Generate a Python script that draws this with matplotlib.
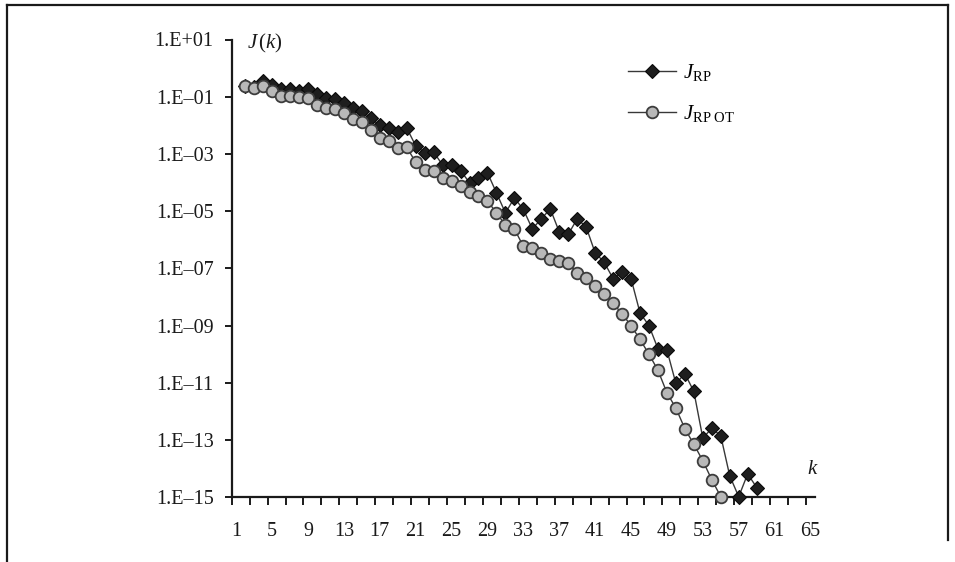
import matplotlib
matplotlib.use("Agg")
import matplotlib.pyplot as plt
from matplotlib.lines import Line2D
import numpy as np

# ---- data ----
k_rp = list(range(2, 60))
j_rp = [0.24, 0.22, 0.355, 0.257, 0.186, 0.186, 0.158, 0.186, 0.129, 0.091,
        0.085, 0.060, 0.041, 0.032, 0.0178, 0.010, 8.1e-3, 5.8e-3, 8.1e-3, 1.95e-3,
        1.12e-3, 1.17e-3, 4.1e-4, 4.1e-4, 2.6e-4, 1.0e-4, 1.4e-4, 2.2e-4, 4.4e-5, 8.7e-6,
        2.9e-5, 1.15e-5, 2.4e-6, 5.4e-6, 1.2e-5, 1.9e-6, 1.55e-6, 5.4e-6, 2.8e-6, 3.5e-7,
        1.66e-7, 4.4e-8, 7.2e-8, 4.4e-8, 2.8e-9, 1.0e-9, 1.55e-10, 1.4e-10, 9.5e-12, 2.1e-11,
        5.0e-12, 1.17e-13, 2.6e-13, 1.4e-13, 5.6e-15, 1.05e-15, 6.6e-15, 2.2e-15]

k_ot = list(range(2, 56))
j_ot = [0.245, 0.209, 0.245, 0.158, 0.110, 0.110, 0.098, 0.087, 0.051, 0.039,
        0.036, 0.028, 0.016, 0.0126, 6.9e-3, 3.5e-3, 2.75e-3, 1.6e-3, 1.7e-3, 5.2e-4,
        2.75e-4, 2.6e-4, 1.5e-4, 1.15e-4, 7.6e-5, 4.8e-5, 3.3e-5, 2.3e-5, 8.7e-6, 3.3e-6,
        2.4e-6, 5.9e-7, 5.0e-7, 3.5e-7, 2.1e-7, 1.8e-7, 1.6e-7, 6.9e-8, 4.8e-8, 2.5e-8,
        1.3e-8, 6.0e-9, 2.6e-9, 1.0e-9, 3.3e-10, 1.0e-10, 2.75e-11, 4.5e-12, 1.3e-12, 2.5e-13,
        7.1e-14, 1.9e-14, 4.1e-15, 1.05e-15]

x_labels = [1, 5, 9, 13, 17, 21, 25, 29, 33, 37, 41, 45, 49, 53, 57, 61, 65]
y_ticks = [1e1, 1e-1, 1e-3, 1e-5, 1e-7, 1e-9, 1e-11, 1e-13, 1e-15]
y_labels = ["1.E+01", "1.E\u201301", "1.E\u201303", "1.E\u201305", "1.E\u201307",
            "1.E\u201309", "1.E\u201311", "1.E\u201313", "1.E\u201315"]

plt.rcParams['font.family'] = ['Liberation Serif', 'DejaVu Serif']
plt.rcParams['mathtext.fontset'] = 'custom'
plt.rcParams['mathtext.rm'] = 'Liberation Serif'
plt.rcParams['mathtext.it'] = 'Liberation Serif:italic'
plt.rcParams['mathtext.bf'] = 'Liberation Serif:bold'

W, H = 955, 562
fig = plt.figure(figsize=(W / 100, H / 100), dpi=100)
ax = fig.add_axes([231.7 / W, 1 - 497.3 / H, (815 - 231.7) / W, (497.3 - 39.5) / H])

ax.set_yscale('log')
ax.set_xlim(0.5, 65.5)
ax.set_ylim(1e-15, 1e1)

l1, = ax.plot(k_rp, j_rp, color='#383838', lw=1.0, marker='D', ms=7.4,
              mfc='#1e1e1e', mec='#0a0a0a', mew=0.8, zorder=3, clip_on=False)
l2, = ax.plot(k_ot, j_ot, color='#383838', lw=1.0, marker='o', ms=8.4,
              mfc='#b8b8b8', mec='#3c3c3c', mew=1.3, zorder=4, clip_on=False)

for s in ['top', 'right']:
    ax.spines[s].set_visible(False)
for s in ['left', 'bottom']:
    ax.spines[s].set_linewidth(1.6)
    ax.spines[s].set_color('#1a1a1a')

ax.set_yticks(y_ticks)
ax.set_yticklabels(y_labels)
ax.yaxis.set_minor_locator(matplotlib.ticker.NullLocator())
ax.tick_params(axis='y', which='major', direction='out', length=5, width=1.4,
               pad=8, labelsize=14.5, colors='#1a1a1a')

ax.set_xticks(x_labels)
ax.set_xticklabels([str(v) for v in x_labels])
ax.set_xticks(np.arange(0.5, 65.0, 2.0), minor=True)
ax.tick_params(axis='x', which='major', length=0, pad=18, labelsize=14.5, colors='#1a1a1a')
ax.tick_params(axis='x', which='minor', direction='out', length=6, width=1.4, color='#1a1a1a')

fig.text(247 / W, 1 - 43 / H, r'$J\,(k)$', fontsize=15, ha='left', va='center', color='#1a1a1a')
fig.text(813 / W, 1 - 469 / H, r'$k$', fontsize=15, ha='center', va='center', color='#1a1a1a')

leg = ax.legend([l1, l2], [r'$J_{\mathrm{RP}}$', r'$J_{\mathrm{RP\ OT}}$'],
                loc='upper left', bbox_to_anchor=(628 / W, 1 - 62 / H),
                bbox_transform=fig.transFigure, frameon=False, fontsize=15,
                handlelength=2.3, handletextpad=0.35, labelspacing=0.95,
                borderpad=0, borderaxespad=0)

# outer frame
frame_kw = dict(color='#1a1a1a', lw=1.6, transform=fig.transFigure)
fig.add_artist(Line2D([7 / W, 948 / W], [1 - 5 / H, 1 - 5 / H], **frame_kw))
fig.add_artist(Line2D([7 / W, 7 / W], [1 - 5 / H, 0], **frame_kw))
fig.add_artist(Line2D([948 / W, 948 / W], [1 - 5 / H, 1 - 540 / H], **frame_kw))

fig.savefig('out.png', dpi=100)
